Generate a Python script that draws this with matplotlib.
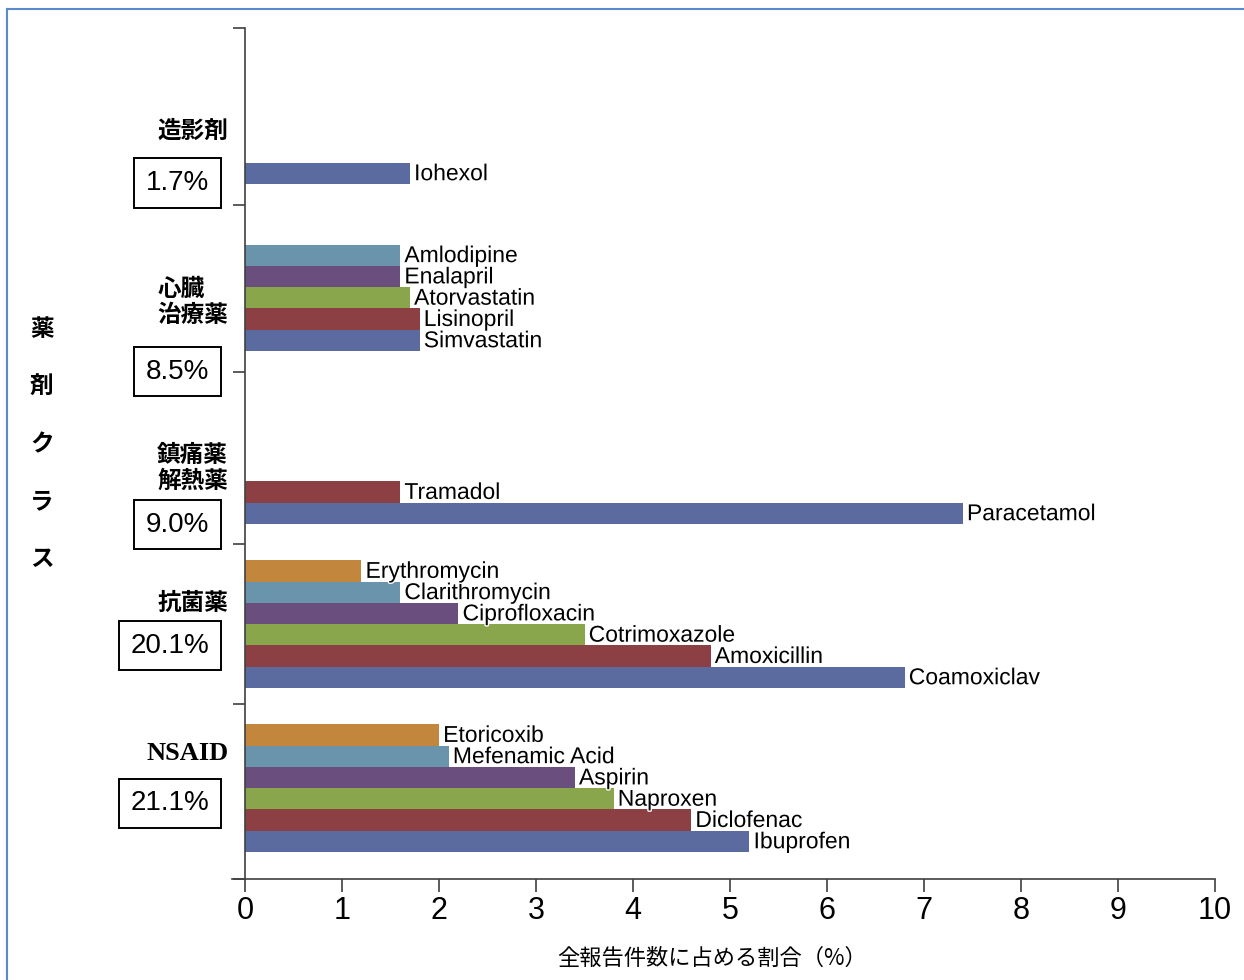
import numpy as np
import matplotlib
matplotlib.use("Agg")
import matplotlib.pyplot as plt
import matplotlib.patheffects as pe
from matplotlib.lines import Line2D
from matplotlib import transforms

# data, bottom group first, bottom bar first within a group
nsaid_drugs = ['Ibuprofen', 'Diclofenac', 'Naproxen', 'Aspirin', 'Mefenamic Acid', 'Etoricoxib']
nsaid_vals = [5.2, 4.6, 3.8, 3.4, 2.1, 2.0]
antibac_drugs = ['Coamoxiclav', 'Amoxicillin', 'Cotrimoxazole', 'Ciprofloxacin', 'Clarithromycin', 'Erythromycin']
antibac_vals = [6.8, 4.8, 3.5, 2.2, 1.6, 1.2]
analg_drugs = ['Paracetamol', 'Tramadol']
analg_vals = [7.4, 1.6]
cardiac_drugs = ['Simvastatin', 'Lisinopril', 'Atorvastatin', 'Enalapril', 'Amlodipine']
cardiac_vals = [1.8, 1.8, 1.7, 1.6, 1.6]
contrast_drugs = ['Iohexol']
contrast_vals = [1.7]

class_names = ['NSAID', '抗菌薬', '鎮痛薬\n解熱薬', '心臓\n治療薬', '造影剤']
class_share = ['21.1%', '20.1%', '9.0%', '8.5%', '1.7%']

drug_groups = [nsaid_drugs, antibac_drugs, analg_drugs, cardiac_drugs, contrast_drugs]
val_groups = [nsaid_vals, antibac_vals, analg_vals, cardiac_vals, contrast_vals]

# layout (y in units of one bar height)
group_base = [1.27, 8.98, 16.69, 24.82, 32.67]
group_ticks = [0, 8.23, 15.75, 23.83, 31.68, 40]
name_y = [5.92, 12.97, 19.32, 27.12, 35.16]
share_y = [3.55, 10.97, 16.66, 23.85, 32.72]
colors = ['#5C6B9F', '#8C4043', '#8AA64D', '#6A4E7E', '#6A93AC', '#C2863D']

cjk = ['Noto Sans CJK JP', 'DejaVu Sans']
sans = 'Liberation Sans'
halo = [pe.withStroke(linewidth=2, foreground='white')]

fig = plt.figure(figsize=(12.44, 9.8), dpi=100)
ax = fig.add_axes([245/1244, 1-879/980, 970/1244, 851/980])

for g in range(len(drug_groups)):
    for i, (d, v) in enumerate(zip(drug_groups[g], val_groups[g])):
        y = group_base[g] + i
        ax.barh(y, v, height=1.0, align='edge', color=colors[i], edgecolor='none', zorder=2)
        ax.annotate(d, (v, y + 0.5), xytext=(3, 1.5), textcoords='offset points',
                    ha='left', va='center_baseline', fontsize=16.5, family=sans,
                    path_effects=halo, zorder=3)

ax.set_xlim(0, 10)
ax.set_ylim(0, 40)
ax.set_xticks(np.arange(0, 11, 1))
ax.set_yticks(group_ticks)
ax.set_yticklabels([])
for lab in ax.get_xticklabels():
    lab.set_family(sans)
ax.tick_params(axis='x', direction='out', length=9.5, width=1.2, color='#404040',
               labelsize=22, pad=3)
ax.tick_params(axis='y', direction='out', length=8.6, width=1.2, color='#404040')
for s in ['top', 'right']:
    ax.spines[s].set_visible(False)
for s in ['left', 'bottom']:
    ax.spines[s].set_color('#404040')
    ax.spines[s].set_linewidth(1.2)
ax.spines['bottom'].set_bounds(-0.13, 10)

trans = transforms.blended_transform_factory(ax.transAxes, ax.transData)
for g in range(len(class_names)):
    if class_names[g] == 'NSAID':
        ax.text(-0.0165, name_y[g], class_names[g], transform=trans, ha='right', va='center',
                fontsize=19, family='Liberation Serif', weight='bold')
    else:
        ax.text(-0.0175, name_y[g], class_names[g], transform=trans, ha='right', va='center',
                multialignment='left', fontsize=17, family=cjk, weight='bold', linespacing=1.08)
    ax.text(-0.0368, share_y[g], class_share[g], transform=trans, ha='right', va='center',
            fontsize=20, family=sans,
            bbox=dict(boxstyle='square,pad=0.42', fc='white', ec='black', lw=1.4))

fig.text(712/1244, 1-958/980, '全報告件数に占める割合（%）', ha='center', va='center',
         fontsize=16, family=cjk)
fig.text(42/1244, 1-444/980, '薬\n剤\nク\nラ\nス', ha='center', va='center',
         fontsize=17, family=cjk, weight='bold', linespacing=2.75)

# outer frame (left and top edges only visible)
fig.add_artist(Line2D([7.5/1244, 7.5/1244], [0, 1-9/980], transform=fig.transFigure,
                      color='#5B8ACB', lw=1.5))
fig.add_artist(Line2D([7.5/1244, 1], [1-9/980, 1-9/980], transform=fig.transFigure,
                      color='#5B8ACB', lw=1.5))

fig.savefig('out.png', dpi=100)
